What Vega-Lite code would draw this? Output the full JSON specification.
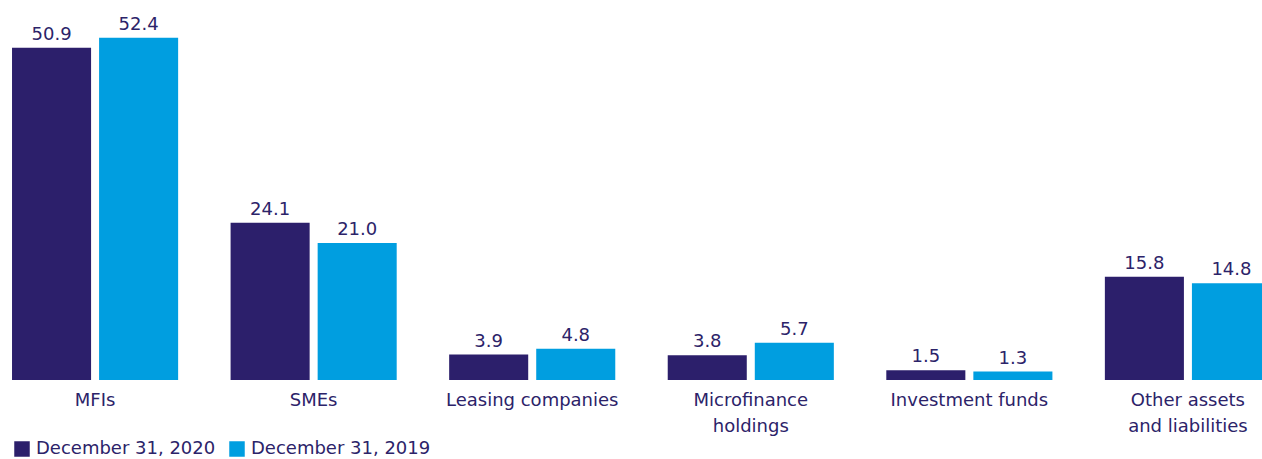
{
  "$schema": "https://vega.github.io/schema/vega-lite/v6.json",
  "width": 1262,
  "height": 380,
  "autosize": {"type": "none"},
  "padding": {"left": 0, "top": 0, "right": 0, "bottom": 79},
  "background": "white",
  "config": {"view": {"stroke": null}, "font": "DejaVu Sans"},
  "data": {"values": [
    {"category": "MFIs", "series": "December 31, 2020", "value": 50.9},
    {"category": "MFIs", "series": "December 31, 2019", "value": 52.4},
    {"category": "SMEs", "series": "December 31, 2020", "value": 24.1},
    {"category": "SMEs", "series": "December 31, 2019", "value": 21.0},
    {"category": "Leasing companies", "series": "December 31, 2020", "value": 3.9},
    {"category": "Leasing companies", "series": "December 31, 2019", "value": 4.8},
    {"category": "Microfinance|holdings", "series": "December 31, 2020", "value": 3.8},
    {"category": "Microfinance|holdings", "series": "December 31, 2019", "value": 5.7},
    {"category": "Investment funds", "series": "December 31, 2020", "value": 1.5},
    {"category": "Investment funds", "series": "December 31, 2019", "value": 1.3},
    {"category": "Other assets|and liabilities", "series": "December 31, 2020", "value": 15.8},
    {"category": "Other assets|and liabilities", "series": "December 31, 2019", "value": 14.8}
  ]},
  "encoding": {
    "x": {
      "field": "category", "type": "nominal", "sort": null,
      "scale": {"range": [0, 1283], "paddingInner": 0.24, "paddingOuter": 0.055},
      "axis": {
        "title": null, "domain": false, "ticks": false, "labelAngle": 0,
        "labelFontSize": 18, "labelColor": "#2c2369", "labelPadding": 11,
        "labelLineHeight": 26, "labelBaseline": "top", "labelLimit": 0,
        "labelExpr": "split(datum.label, '|')"
      }
    },
    "xOffset": {
      "field": "series", "type": "nominal", "sort": ["December 31, 2020", "December 31, 2019"],
      "scale": {"paddingInner": 0.092, "paddingOuter": 0}
    },
    "y": {
      "field": "value", "type": "quantitative",
      "scale": {"domain": [0, 58.2], "nice": false, "zero": true},
      "axis": null
    }
  },
  "layer": [
    {
      "mark": {"type": "bar"},
      "encoding": {
        "color": {
          "field": "series", "type": "nominal",
          "scale": {"domain": ["December 31, 2020", "December 31, 2019"], "range": ["#2c1f6b", "#009ee0"]},
          "legend": {
            "title": null, "orient": "none", "direction": "horizontal",
            "legendX": 13, "legendY": 440,
            "symbolType": "square", "symbolSize": 240, "symbolStrokeWidth": 0,
            "symbolOpacity": 1, "labelLimit": 0,
            "labelFontSize": 18, "labelColor": "#2c2369", "labelOffset": 5,
            "columnPadding": 12
          }
        }
      }
    },
    {
      "mark": {"type": "text", "baseline": "alphabetic", "dy": -8, "fontSize": 18, "color": "#2c2369"},
      "encoding": {
        "text": {"field": "value", "type": "quantitative", "format": ".1f"}
      }
    }
  ]
}
